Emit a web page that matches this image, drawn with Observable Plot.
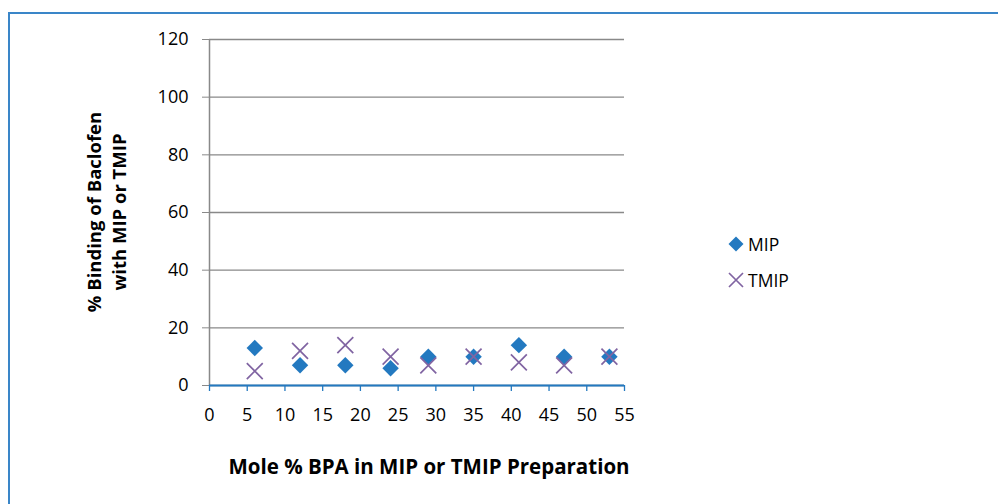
<!DOCTYPE html>
<html>
<head>
<meta charset="utf-8">
<script src="https://cdn.jsdelivr.net/npm/d3@7"></script>
<script src="https://cdn.jsdelivr.net/npm/@observablehq/plot@0.6"></script>
<style>
  html, body { margin: 0; padding: 0; background: #fff; }
  #wrap { position: relative; width: 998px; height: 504px; overflow: hidden; font-family: "Open Sans", sans-serif; }
  #border { position: absolute; left: 8px; top: 12px; width: 1100px; height: 600px; border: 2px solid #3a86c8; box-sizing: border-box; }
  #chart { position: absolute; left: 0; top: 0; }
  .ytitle { position: absolute; font-weight: bold; font-size: 18.5px; white-space: nowrap; transform: translate(-50%, -50%) rotate(-90deg); color: #000; }
  .xtitle { position: absolute; font-weight: bold; font-size: 20.5px; white-space: nowrap; transform: translate(-50%, -50%); color: #000; }
  .leg { position: absolute; font-size: 17.5px; color: #000; display: flex; align-items: center; }
  .leg svg { margin-right: 3px; }
</style>
</head>
<body>
<div id="wrap">
  <div id="border"></div>
  <div id="chart"></div>
  <div class="ytitle" style="left:93px; top:212px;">% Binding of Baclofen</div>
  <div class="ytitle" style="left:118px; top:212px;">with MIP or TMIP</div>
  <div class="xtitle" style="left:429px; top:466px;">Mole % BPA in MIP or TMIP Preparation</div>
  <div class="leg" style="left:727px; top:232px;">
    <svg width="18" height="24" viewBox="-9 -12 18 24"><path d="M0,-7.5L7.5,0L0,7.5L-7.5,0Z" fill="#2379c0"/></svg>MIP
  </div>
  <div class="leg" style="left:727px; top:268px;">
    <svg width="18" height="24" viewBox="-9 -12 18 24"><path d="M-7,-7L7,7M-7,7L7,-7" stroke="#8064a2" stroke-width="1.7" fill="none"/></svg>TMIP
  </div>
</div>
<script>
const molePct = [6, 12, 18, 24, 29, 35, 41, 47, 53];
const mipValues = [13, 7, 7, 6, 10, 10, 14, 10, 10];
const tmipValues = [5, 12, 14, 10, 7, 10, 8, 7, 10];
const xTicks = [0, 5, 10, 15, 20, 25, 30, 35, 40, 45, 50, 55];
const yTicks = [0, 20, 40, 60, 80, 100, 120];

const blue = "#2379c0";
const purple = "#8064a2";
const gray = "#898989";

const mip = molePct.map((x, i) => ({x, y: mipValues[i]}));
const tmip = molePct.map((x, i) => ({x, y: tmipValues[i]}));

const chart = Plot.plot({
  width: 998,
  height: 504,
  marginLeft: 209,
  marginRight: 374,
  marginTop: 39,
  marginBottom: 119,
  style: {fontFamily: "'Open Sans', sans-serif", fontSize: "18px", background: "transparent", color: "#000"},
  x: {domain: [0, 55]},
  y: {domain: [0, 120]},
  marks: [
    Plot.gridY(yTicks, {stroke: gray, strokeOpacity: 1, strokeWidth: 1.3}),
    Plot.ruleX([0], {stroke: gray, strokeWidth: 1.5}),
    Plot.axisY(yTicks, {tickSize: 7, tickPadding: 14, stroke: gray, fill: "#000", fontSize: 18, label: null, tickFormat: d => d}),
    Plot.axisX(xTicks, {tickSize: 6, tickPadding: 17, stroke: blue, strokeWidth: 1.3, fill: "#000", fontSize: 18, label: null, tickFormat: d => d}),
    Plot.ruleY([0], {stroke: blue, strokeWidth: 2}),
    Plot.dot(mip, {x: "x", y: "y", symbol: "diamond2", r: 7.4, fill: blue, stroke: "none"}),
    Plot.dot(tmip, {x: "x", y: "y", symbol: "times", r: 7.3, stroke: purple, strokeWidth: 1.7, fill: "none"})
  ]
});
document.getElementById("chart").appendChild(chart);
</script>
</body>
</html>
